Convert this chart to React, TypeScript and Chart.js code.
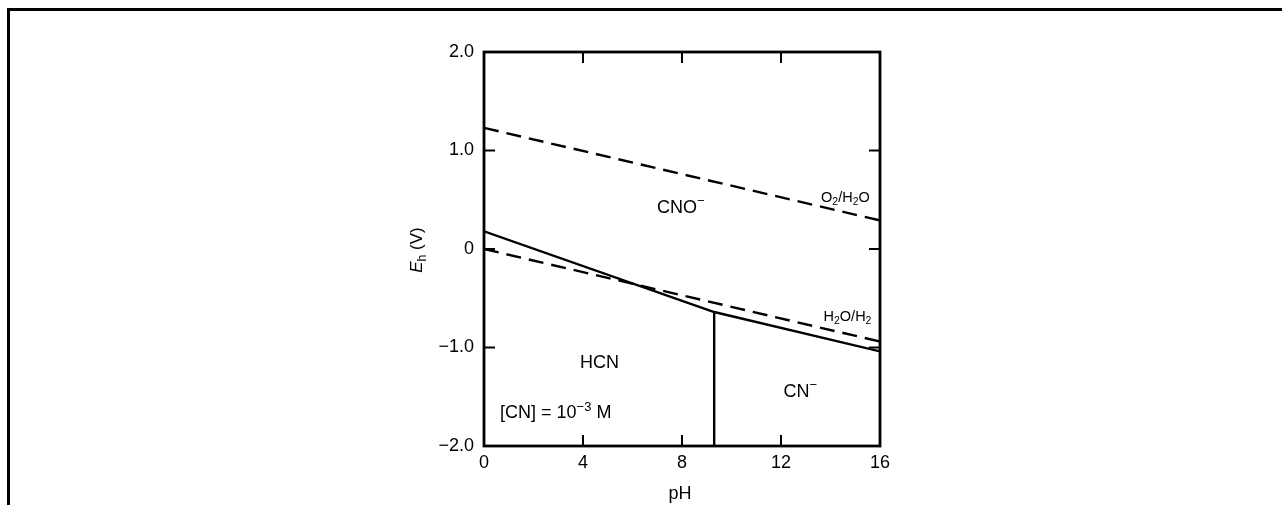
import { useEffect, useRef } from 'react';
import { Chart, registerables } from 'chart.js';

Chart.register(...registerables);

const FONT = '"Liberation Sans", Arial, Helvetica, sans-serif';

// Axis ticks
const xTickValues = [0, 4, 8, 12, 16];
const xTickLabels = ['0', '4', '8', '12', '16'];
const yTickValues = [-2, -1, 0, 1, 2];
const yTickLabels = ['\u22122.0', '\u22121.0', '0', '1.0', '2.0'];

// Water stability lines (dashed)
const o2H2oPH = [0, 16];
const o2H2oEh = [1.23, 0.29];
const h2oH2PH = [0, 16];
const h2oH2Eh = [0.0, -0.94];

// Cyanate / cyanide boundaries (solid)
const cnoBoundaryPH = [0, 9.3, 16];
const cnoBoundaryEh = [0.18, -0.64, -1.04];
const hcnCnPH = [9.3, 9.3];
const hcnCnEh = [-0.64, -2.0];

type Part = { t: string; k?: 'sup' | 'sub' | 'it' };

// Text labels, anchored (left, baseline) in data coordinates
const labelParts: Part[][] = [
  [{ t: 'CNO' }, { t: '\u2212', k: 'sup' }],
  [{ t: 'O' }, { t: '2', k: 'sub' }, { t: '/H' }, { t: '2', k: 'sub' }, { t: 'O' }],
  [{ t: 'H' }, { t: '2', k: 'sub' }, { t: 'O/H' }, { t: '2', k: 'sub' }],
  [{ t: 'HCN' }],
  [{ t: 'CN' }, { t: '\u2212', k: 'sup' }],
  [{ t: '[CN] = 10' }, { t: '\u22123', k: 'sup' }, { t: ' M' }],
];
const labelPH = [6.99, 13.62, 13.72, 3.88, 12.1, 0.65];
const labelEh = [0.365, 0.48, -0.73, -1.21, -1.5, -1.72];
const labelSize = [18, 14.5, 14.5, 18, 18, 18];

function toPoints(xs: number[], ys: number[]) {
  return xs.map((x, i) => ({ x, y: ys[i] }));
}

function drawRich(ctx: CanvasRenderingContext2D, parts: Part[], x: number, y: number, size: number, align: 'left' | 'center' = 'left') {
  const small = size * 0.72;
  const fontFor = (p: Part) => {
    if (p.k === 'sup' || p.k === 'sub') return `${small}px ${FONT}`;
    if (p.k === 'it') return `italic ${size}px ${FONT}`;
    return `${size}px ${FONT}`;
  };
  let total = 0;
  for (const p of parts) {
    ctx.font = fontFor(p);
    total += ctx.measureText(p.t).width;
  }
  let cx = align === 'center' ? x - total / 2 : x;
  ctx.textAlign = 'left';
  ctx.textBaseline = 'alphabetic';
  for (const p of parts) {
    ctx.font = fontFor(p);
    let dy = 0;
    if (p.k === 'sup') dy = -size * 0.42;
    if (p.k === 'sub') dy = size * 0.22;
    ctx.fillText(p.t, cx, y + dy);
    cx += ctx.measureText(p.t).width;
  }
}

const framePlugin = {
  id: 'framePlugin',
  beforeDraw(chart: any) {
    const ctx = chart.ctx as CanvasRenderingContext2D;
    ctx.save();
    ctx.fillStyle = '#fff';
    ctx.fillRect(0, 0, chart.width, chart.height);
    ctx.fillStyle = '#000';
    ctx.fillRect(7, 8, chart.width - 7, 3);
    ctx.fillRect(7, 8, 3, 497);
    ctx.restore();
  },
  afterDraw(chart: any) {
    const ctx = chart.ctx as CanvasRenderingContext2D;
    const { left, right, top, bottom } = chart.chartArea;
    const xs = chart.scales.x;
    const ys = chart.scales.y;
    ctx.save();
    ctx.strokeStyle = '#000';
    ctx.lineWidth = 2.8;
    ctx.strokeRect(left, top, right - left, bottom - top);
    // inner ticks
    ctx.lineWidth = 2;
    const tl = 11;
    ctx.beginPath();
    for (const v of xTickValues) {
      if (v === xs.min || v === xs.max) continue;
      const px = xs.getPixelForValue(v);
      ctx.moveTo(px, bottom);
      ctx.lineTo(px, bottom - tl);
      ctx.moveTo(px, top);
      ctx.lineTo(px, top + tl);
    }
    for (const v of yTickValues) {
      if (v === ys.min || v === ys.max) continue;
      const py = ys.getPixelForValue(v);
      ctx.moveTo(left, py);
      ctx.lineTo(left + tl, py);
      ctx.moveTo(right, py);
      ctx.lineTo(right - tl, py);
    }
    ctx.stroke();

    ctx.fillStyle = '#000';
    labelParts.forEach((parts, i) => {
      drawRich(ctx, parts, xs.getPixelForValue(labelPH[i]), ys.getPixelForValue(labelEh[i]), labelSize[i]);
    });

    // x axis title
    drawRich(ctx, [{ t: 'pH' }], (left + right) / 2 - 2, 499, 18, 'center');

    // y axis title (rotated)
    ctx.save();
    ctx.translate(left - 62, (top + bottom) / 2 + 1);
    ctx.rotate(-Math.PI / 2);
    drawRich(ctx, [{ t: 'E', k: 'it' }, { t: 'h', k: 'sub' }, { t: ' (V)' }], 0, 0, 17, 'center');
    ctx.restore();
    ctx.restore();
  },
};

export default function App() {
  const ref = useRef<HTMLCanvasElement | null>(null);

  useEffect(() => {
    if (!ref.current) return;
    const lineBase = {
      showLine: true,
      pointRadius: 0,
      pointHoverRadius: 0,
      borderColor: '#000',
      backgroundColor: '#000',
      borderWidth: 2.4,
      tension: 0,
      fill: false,
    };
    const chart = new Chart(ref.current, {
      type: 'scatter',
      data: {
        datasets: [
          { ...lineBase, label: 'O2/H2O', data: toPoints(o2H2oPH, o2H2oEh), borderDash: [15, 8] },
          { ...lineBase, label: 'H2O/H2', data: toPoints(h2oH2PH, h2oH2Eh), borderDash: [15, 8] },
          { ...lineBase, label: 'CNO-', data: toPoints(cnoBoundaryPH, cnoBoundaryEh) },
          { ...lineBase, label: 'HCN/CN-', data: toPoints(hcnCnPH, hcnCnEh) },
        ],
      },
      options: {
        animation: false,
        responsive: false,
        events: [],
        layout: { padding: { left: 424, right: 402, top: 52, bottom: 39 } },
        plugins: { legend: { display: false }, tooltip: { enabled: false }, title: { display: false } },
        scales: {
          x: {
            type: 'linear',
            min: 0,
            max: 16,
            grid: { display: false, drawTicks: false },
            border: { display: false },
            ticks: {
              stepSize: 4,
              padding: 6,
              color: '#000',
              font: { family: FONT, size: 18 },
              maxRotation: 0,
              callback: (v: any) => {
                const i = xTickValues.indexOf(Number(v));
                return i >= 0 ? xTickLabels[i] : '';
              },
            },
            afterFit: (s: any) => {
              s.height = 30;
              s.paddingLeft = 0;
              s.paddingRight = 0;
            },
          },
          y: {
            type: 'linear',
            min: -2,
            max: 2,
            grid: { display: false, drawTicks: false },
            border: { display: false },
            ticks: {
              stepSize: 1,
              padding: 10,
              color: '#000',
              font: { family: FONT, size: 18 },
              callback: (v: any) => {
                const i = yTickValues.indexOf(Number(v));
                return i >= 0 ? yTickLabels[i] : '';
              },
            },
            afterFit: (s: any) => {
              s.width = 60;
              s.paddingTop = 0;
              s.paddingBottom = 0;
            },
          },
        },
      },
      plugins: [framePlugin],
    });
    return () => chart.destroy();
  }, []);

  return (
    <div style={{ position: 'fixed', left: 0, top: 0, width: 1282, height: 515, background: '#fff' }}>
      <canvas ref={ref} width={1282} height={515} style={{ display: 'block' }} />
    </div>
  );
}
